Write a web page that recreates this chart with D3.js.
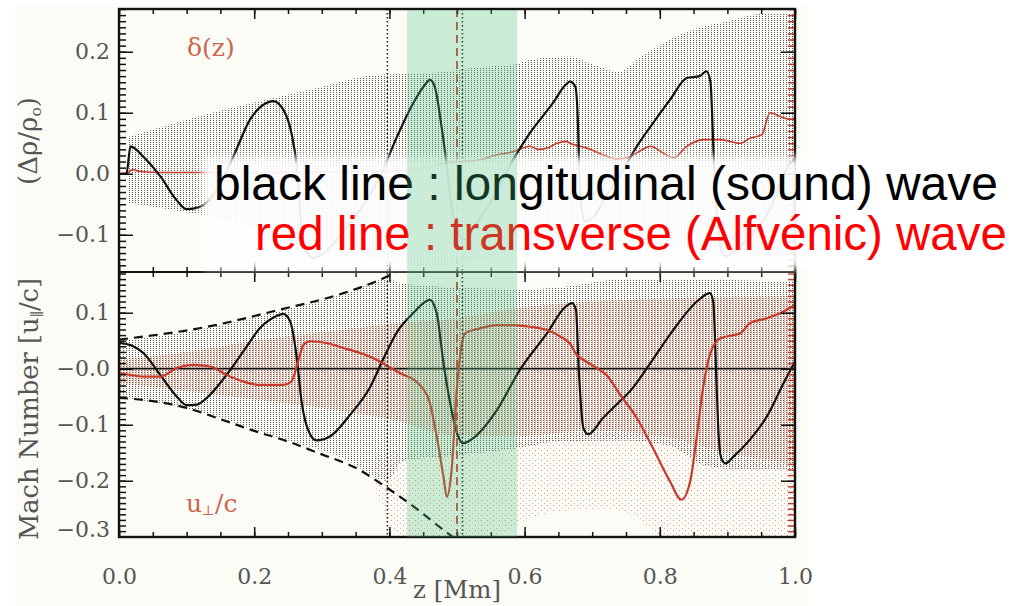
<!DOCTYPE html>
<html><head><meta charset="utf-8">
<script src="https://cdn.jsdelivr.net/npm/d3@7"></script>
<style>body{margin:0;background:#fff}svg{display:block}</style>
</head><body>
<svg id="c" width="1013" height="606"></svg>
<script>
// ---------------- data ----------------
const xTicks = [0, 0.2, 0.4, 0.6, 0.8, 1.0];
const xLabels = ["0.0", "0.2", "0.4", "0.6", "0.8", "1.0"];
const topYTicks = [-0.1, 0, 0.1, 0.2];
const topYLabels = ["\u22120.1", "0.0", "0.1", "0.2"];
const botYTicks = [-0.3, -0.2, -0.1, 0, 0.1];
const botYLabels = ["\u22120.3", "\u22120.2", "\u22120.1", "\u22120.0", "0.1"];

// top panel: density perturbation (black) and delta(z) (red)
const topBlack = [[0,0],[0.011,0],[0.017,0.045],[0.036,0.028],[0.061,-0.004],[0.085,-0.043],[0.100,-0.058],[0.12,-0.054],[0.145,-0.026],[0.169,0.028],[0.194,0.089],[0.218,0.116],[0.228,0.119],[0.243,0.105],[0.255,0.067],[0.263,0.012],[0.270,-0.086],[0.277,-0.125],[0.287,-0.138],[0.300,-0.132],[0.332,-0.095],[0.361,-0.052],[0.386,-0.005],[0.411,0.06],[0.435,0.115],[0.452,0.145],[0.460,0.154],[0.467,0.143],[0.477,0.078],[0.485,0.012],[0.492,-0.054],[0.497,-0.08],[0.503,-0.1],[0.512,-0.108],[0.52,-0.098],[0.529,-0.081],[0.549,-0.048],[0.583,0.023],[0.608,0.067],[0.642,0.116],[0.660,0.145],[0.667,0.151],[0.675,0.143],[0.679,0.08],[0.681,0.0],[0.684,-0.05],[0.689,-0.078],[0.697,-0.075],[0.707,-0.064],[0.716,-0.045],[0.74,-0.005],[0.766,0.045],[0.790,0.083],[0.815,0.121],[0.840,0.157],[0.859,0.160],[0.869,0.168],[0.875,0.15],[0.878,0.08],[0.881,-0.01],[0.885,-0.07],[0.890,-0.12],[0.897,-0.135],[0.91,-0.128],[0.935,-0.1],[0.96,-0.065],[0.99,0.012],[1.0,0.025]];
const topRed = [[0,0],[0.012,0.001],[0.02,0.007],[0.03,0.004],[0.06,0.002],[0.15,0.002],[0.25,0.002],[0.35,0.004],[0.40,0.005],[0.435,0.007],[0.46,0.012],[0.485,0.018],[0.51,0.02],[0.534,0.023],[0.559,0.031],[0.583,0.036],[0.608,0.045],[0.62,0.04],[0.633,0.042],[0.648,0.05],[0.662,0.053],[0.667,0.05],[0.682,0.045],[0.692,0.042],[0.716,0.031],[0.736,0.024],[0.756,0.028],[0.772,0.038],[0.786,0.045],[0.805,0.034],[0.82,0.026],[0.84,0.045],[0.864,0.056],[0.889,0.056],[0.919,0.05],[0.933,0.058],[0.951,0.064],[0.963,0.10],[0.978,0.094],[0.993,0.089],[1.0,0.092]];

// bottom panel: u_par/c (black) and u_perp/c (red)
const botBlack = [[0,0.046],[0.021,0.04],[0.036,0.028],[0.061,-0.011],[0.085,-0.049],[0.100,-0.065],[0.115,-0.064],[0.135,-0.046],[0.159,-0.011],[0.184,0.031],[0.209,0.073],[0.233,0.094],[0.243,0.098],[0.253,0.085],[0.263,0.019],[0.270,-0.058],[0.283,-0.118],[0.292,-0.128],[0.312,-0.121],[0.342,-0.082],[0.371,-0.034],[0.392,0.02],[0.411,0.065],[0.435,0.099],[0.46,0.123],[0.47,0.099],[0.48,0.01],[0.49,-0.062],[0.50,-0.115],[0.509,-0.133],[0.524,-0.124],[0.559,-0.074],[0.593,-0.002],[0.633,0.063],[0.660,0.11],[0.670,0.117],[0.676,0.105],[0.68,0.001],[0.687,-0.106],[0.694,-0.117],[0.716,-0.088],[0.741,-0.058],[0.756,-0.04],[0.781,0.001],[0.815,0.061],[0.855,0.12],[0.874,0.135],[0.879,0.12],[0.884,-0.029],[0.887,-0.118],[0.891,-0.16],[0.897,-0.169],[0.909,-0.157],[0.933,-0.127],[0.958,-0.086],[0.983,-0.026],[1.0,0.013]];
const botRed = [[0,-0.008],[0.016,-0.011],[0.036,-0.014],[0.061,-0.014],[0.085,0.001],[0.110,0.007],[0.135,0.004],[0.159,-0.011],[0.184,-0.023],[0.209,-0.029],[0.243,-0.029],[0.255,-0.023],[0.265,0.013],[0.273,0.043],[0.283,0.049],[0.307,0.046],[0.332,0.037],[0.357,0.028],[0.381,0.016],[0.398,0.004],[0.416,-0.008],[0.445,-0.029],[0.46,-0.062],[0.47,-0.121],[0.48,-0.193],[0.485,-0.229],[0.492,-0.181],[0.50,-0.032],[0.505,0.027],[0.512,0.063],[0.534,0.072],[0.559,0.078],[0.583,0.078],[0.608,0.075],[0.633,0.069],[0.652,0.058],[0.667,0.045],[0.677,0.025],[0.687,0.016],[0.707,0.001],[0.721,-0.011],[0.741,-0.046],[0.766,-0.088],[0.790,-0.142],[0.815,-0.201],[0.832,-0.234],[0.845,-0.201],[0.855,-0.118],[0.864,-0.034],[0.874,0.025],[0.889,0.054],[0.909,0.060],[0.919,0.063],[0.933,0.081],[0.958,0.090],[0.983,0.102],[1.0,0.114]];
const envUpper = [[0,0.052],[0.135,0.076],[0.233,0.104],[0.332,0.135],[0.397,0.165],[0.42,0.18]];
const envLower = [[0,-0.052],[0.05,-0.058],[0.10,-0.070],[0.15,-0.09],[0.20,-0.111],[0.25,-0.13],[0.30,-0.153],[0.35,-0.177],[0.397,-0.213],[0.44,-0.25],[0.48,-0.288],[0.50,-0.306]];

// scatter envelopes (ensemble of snapshots)
const topGrayZ  = [0.012,0.135,0.283,0.381,0.46,0.534,0.583,0.608,0.667,0.70,0.74,0.766,0.815,0.86,0.9,0.95,1.0];
const topGrayHi = [0.06,0.099,0.138,0.162,0.165,0.175,0.179,0.187,0.192,0.18,0.167,0.187,0.22,0.24,0.25,0.262,0.262];
const topGrayLo = [-0.048,-0.07,-0.108,-0.138,-0.15,-0.142,-0.13,-0.125,-0.118,-0.115,-0.115,-0.117,-0.12,-0.125,-0.13,-0.133,-0.135];
const botGrayZ  = [0,0.135,0.233,0.332,0.397,0.42,0.5,0.6,0.65,0.75,0.82,0.86,0.92,1.0];
const botGrayHi = [0.05,0.074,0.102,0.133,0.16,0.152,0.145,0.142,0.145,0.16,0.158,0.16,0.158,0.155];
const botGrayLo = [-0.05,-0.082,-0.122,-0.16,-0.2,-0.165,-0.155,-0.14,-0.13,-0.128,-0.14,-0.17,-0.18,-0.18];
const pinkZ  = [0,0.1,0.2,0.3,0.4,0.5,0.6,0.7,0.8,0.9,1.0];
const pinkHi = [0.016,0.03,0.05,0.065,0.08,0.09,0.11,0.12,0.125,0.128,0.13];
const pinkLo = [-0.026,-0.04,-0.055,-0.07,-0.09,-0.12,-0.12,-0.11,-0.12,-0.15,-0.17];
const sparseZ  = [0.38,0.42,0.5,0.55,0.6,0.65,0.72,0.77,0.8,0.9,1.0];
const sparseHi = [-0.15,-0.155,-0.15,-0.145,-0.13,-0.12,-0.11,-0.115,-0.12,-0.15,-0.17];
const sparseLo = [-0.22,-0.3,-0.3,-0.3,-0.27,-0.255,-0.25,-0.27,-0.3,-0.3,-0.3];

const dottedZ = [0.397, 0.508];
const dashedZ = [0.5];
const bandZ = [0.426, 0.589];

// ---------------- drawing ----------------
const svg = d3.select("#c");
const L = 119, R = 795, T = 9, M = 272, B = 537;
const x = d3.scaleLinear([0, 1], [L, R]);
const yT = d3.scaleLinear([-0.161, 0.270], [M, T]);
const yB = d3.scaleLinear([-0.3005, 0.1727], [B, M]);

const defs = svg.append("defs");
const gp = defs.append("pattern").attr("id","gp").attr("patternUnits","userSpaceOnUse").attr("width",3).attr("height",2);
gp.append("rect").attr("x",0).attr("y",0).attr("width",1).attr("height",1).attr("fill","#5a5a5a");
const pp = defs.append("pattern").attr("id","pp").attr("patternUnits","userSpaceOnUse").attr("width",3).attr("height",2);
pp.append("rect").attr("x",1).attr("y",0).attr("width",1).attr("height",2).attr("fill","#f2b0a0");
const sp = defs.append("pattern").attr("id","sp").attr("patternUnits","userSpaceOnUse").attr("width",6).attr("height",5);
sp.append("rect").attr("x",1).attr("y",0).attr("width",1).attr("height",1).attr("fill","#e8907e");
sp.append("rect").attr("x",4).attr("y",3).attr("width",1).attr("height",1).attr("fill","#eeaa9a");
const bl = defs.append("filter").attr("id","blur").attr("x","-5%").attr("y","-20%").attr("width","110%").attr("height","140%");
bl.append("feGaussianBlur").attr("stdDeviation",4);
defs.append("clipPath").attr("id","ct").append("rect").attr("x",L).attr("y",T).attr("width",R-L).attr("height",M-T);
defs.append("clipPath").attr("id","cb").append("rect").attr("x",L).attr("y",M).attr("width",R-L).attr("height",B-M);

// cream background of the original figure
svg.append("rect").attr("x",15).attr("y",6).attr("width",793).attr("height",600).attr("fill","#fcfcf6");

const gT = svg.append("g").attr("clip-path","url(#ct)");
const gB = svg.append("g").attr("clip-path","url(#cb)");

function band(zs, lo, hi, ys){
  const d = zs.map((z,i)=>({z, lo:lo[i], hi:hi[i]}));
  return d3.area().x(p=>x(p.z)).y0(p=>ys(p.lo)).y1(p=>ys(p.hi)).curve(d3.curveMonotoneX)(d);
}
gT.append("path").attr("d", band(topGrayZ, topGrayLo, topGrayHi, yT)).attr("fill","url(#gp)");
gB.append("path").attr("d", band(pinkZ, pinkLo, pinkHi, yB)).attr("fill","url(#pp)");
gB.append("path").attr("d", band(sparseZ, sparseLo, sparseHi, yB)).attr("fill","url(#sp)");
gB.append("path").attr("d", band(botGrayZ, botGrayLo, botGrayHi, yB)).attr("fill","url(#gp)");

const line = ys => d3.line().x(p=>x(p[0])).y(p=>ys(p[1])).curve(d3.curveMonotoneX);
gB.append("path").attr("d", line(yB)(envUpper)).attr("fill","none").attr("stroke","#111").attr("stroke-width",2.2).attr("stroke-dasharray","9,6");
gB.append("path").attr("d", line(yB)(envLower)).attr("fill","none").attr("stroke","#111").attr("stroke-width",2.2).attr("stroke-dasharray","9,6");
gB.append("line").attr("x1",L).attr("x2",R).attr("y1",yB(0)).attr("y2",yB(0)).attr("stroke","#111").attr("stroke-width",1.8);

gT.append("path").attr("d", line(yT)(topRed)).attr("fill","none").attr("stroke","#c83a2c").attr("stroke-width",1.6);
gT.append("path").attr("d", line(yT)(topBlack)).attr("fill","none").attr("stroke","#111").attr("stroke-width",2.2);
gB.append("path").attr("d", line(yB)(botBlack)).attr("fill","none").attr("stroke","#111").attr("stroke-width",2.2);
gB.append("path").attr("d", line(yB)(botRed)).attr("fill","none").attr("stroke","#c83a2c").attr("stroke-width",2.2);

// vertical markers
svg.selectAll(".vdot").data(dottedZ).join("line").attr("x1",d=>x(d)).attr("x2",d=>x(d)).attr("y1",T).attr("y2",B)
  .attr("stroke","#222").attr("stroke-width",1.6).attr("stroke-dasharray","1.5,2.5");
svg.selectAll(".vdash").data(dashedZ).join("line").attr("x1",d=>x(d)).attr("x2",d=>x(d)).attr("y1",T).attr("y2",B)
  .attr("stroke","#c0392b").attr("stroke-width",1.8).attr("stroke-dasharray","8,5");

// axes
function styleAxis(g, color){
  g.select(".domain").remove();
  g.selectAll(".tick line").attr("stroke", color).attr("stroke-width",1.5);
  g.selectAll("text").attr("font-family","'DejaVu Serif', serif").attr("font-size",22).attr("fill","#555");
}
const minT = d3.range(-16, 28).map(i=>i/100);
const minB = d3.range(-30, 18).map(i=>i/100);
const minX = d3.range(0, 21).map(i=>i/20);

function yAxes(ys, ticks, labels, minors){
  const a = svg.append("g").attr("transform",`translate(${L},0)`)
    .call(d3.axisLeft(ys).tickValues(ticks).tickFormat((d,i)=>labels[i]).tickSizeInner(-14).tickSizeOuter(0).tickPadding(9));
  styleAxis(a, "#111");
  const b = svg.append("g").attr("transform",`translate(${L},0)`)
    .call(d3.axisLeft(ys).tickValues(minors).tickFormat("").tickSizeInner(-7).tickSizeOuter(0));
  styleAxis(b, "#111");
  const c = svg.append("g").attr("transform",`translate(${R},0)`)
    .call(d3.axisRight(ys).tickValues(minors).tickFormat("").tickSizeInner(-7).tickSizeOuter(0));
  styleAxis(c, "#c0392b");
  const e = svg.append("g").attr("transform",`translate(${R},0)`)
    .call(d3.axisRight(ys).tickValues(ticks).tickFormat("").tickSizeInner(-14).tickSizeOuter(0));
  styleAxis(e, "#111");
  return a;
}
yAxes(yT, topYTicks, topYLabels, minT.filter(v=>v>=-0.161&&v<=0.27));
const ab = yAxes(yB, botYTicks, botYLabels, minB.filter(v=>v>=-0.3005&&v<=0.1727));
ab.selectAll(".tick").filter(d=>d===-0.3).select("text").attr("dy","0.0em");

function xAxis(yPos, dir, showLabels){
  const maker = dir > 0 ? d3.axisBottom : d3.axisTop;
  const a = svg.append("g").attr("transform",`translate(0,${yPos})`)
    .call(maker(x).tickValues(xTicks).tickFormat((d,i)=>showLabels?xLabels[i]:"").tickSizeInner(-10).tickSizeOuter(0).tickPadding(31));
  styleAxis(a, "#111");
  const b = svg.append("g").attr("transform",`translate(0,${yPos})`)
    .call(maker(x).tickValues(minX).tickFormat("").tickSizeInner(-5).tickSizeOuter(0));
  styleAxis(b, "#111");
}
xAxis(B, 1, true);
xAxis(M, 1, false);
xAxis(M, -1, false);
xAxis(T, -1, false);

// frames
svg.append("rect").attr("x",L).attr("y",T).attr("width",R-L).attr("height",B-T).attr("fill","none").attr("stroke","#111").attr("stroke-width",2.4);
svg.append("line").attr("x1",L).attr("x2",R).attr("y1",M).attr("y2",M).attr("stroke","#111").attr("stroke-width",2.2);

function fit(t, w){
  const cur = parseFloat(t.attr("font-size"));
  const m = t.node().getComputedTextLength();
  t.attr("font-size", cur * w / m);
}

// axis titles
const xt = svg.append("text").attr("x",457).attr("y",598).attr("text-anchor","middle")
  .attr("font-family","'DejaVu Serif', serif").attr("font-size",20).attr("fill","#555").text("z [Mm]");
fit(xt, 88);
const yt1 = svg.append("text").attr("transform","translate(37,141) rotate(-90)").attr("text-anchor","middle")
  .attr("font-family","'DejaVu Serif', serif").attr("font-size",20).attr("fill","#555");
yt1.append("tspan").text("(\u0394\u03c1/\u03c1");
yt1.append("tspan").attr("font-size","0.6em").attr("dy","0.25em").text("o");
yt1.append("tspan").attr("dy","-0.15em").text(")");
fit(yt1, 88);
const yt2 = svg.append("text").attr("transform","translate(38,409) rotate(-90)").attr("text-anchor","middle")
  .attr("font-family","'DejaVu Serif', serif").attr("font-size",20).attr("fill","#555");
yt2.append("tspan").text("Mach Number [u");
yt2.append("tspan").attr("font-size","0.55em").attr("dy","0.25em").text("\u2225");
yt2.append("tspan").attr("dy","-0.14em").text("/c]");
fit(yt2, 262);

// in-panel labels
svg.append("text").attr("x",187).attr("y",56).attr("font-family","'DejaVu Serif', serif").attr("font-size",25)
  .attr("fill","#cc6650").text("\u03b4(z)");
const ul = svg.append("text").attr("x",186).attr("y",512).attr("font-family","'DejaVu Serif', serif").attr("font-size",25).attr("fill","#cc6650");
ul.append("tspan").text("u");
ul.append("tspan").attr("font-size","0.55em").attr("dy","0.2em").text("\u22a5");
ul.append("tspan").attr("dy","-0.11em").text("/c");

// annotation overlay
svg.append("rect").attr("x",203).attr("y",157).attr("width",830).attr("height",112)
  .attr("fill","#fff").attr("opacity",0.92).attr("filter","url(#blur)");
const t1 = svg.append("text").attr("x",214).attr("y",200).attr("font-family","'Liberation Sans', Arial, sans-serif")
  .attr("font-size",48).attr("fill","#000").text("black line : longitudinal (sound) wave");
fit(t1, 784);
const t2 = svg.append("text").attr("x",255).attr("y",250).attr("font-family","'Liberation Sans', Arial, sans-serif")
  .attr("font-size",48).attr("fill","#ff0000").text("red line : transverse (Alfv\u00e9nic) wave");
fit(t2, 752);

// highlighted region (on top of everything)
svg.append("rect").attr("x",x(bandZ[0])).attr("y",T+1).attr("width",x(bandZ[1])-x(bandZ[0])).attr("height",B-T-1)
  .attr("fill","rgb(76,194,126)").attr("opacity",0.28);
</script></body></html>
